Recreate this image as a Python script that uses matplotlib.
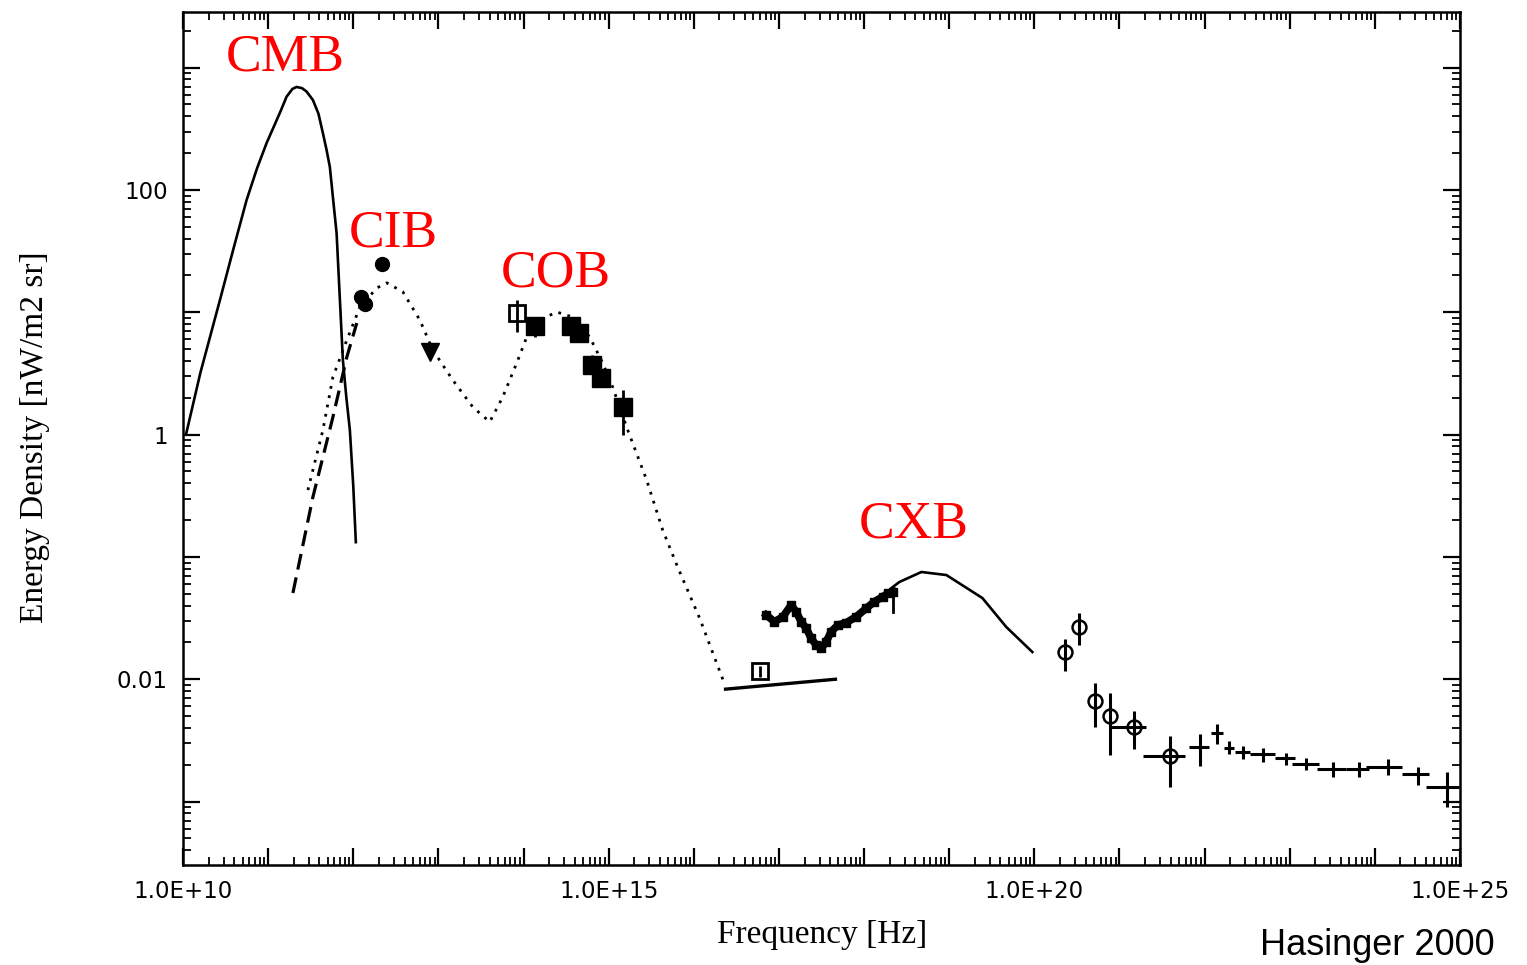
import numpy as np
import matplotlib as mpl
mpl.use('Agg')
import matplotlib.pyplot as plt
from matplotlib.ticker import FixedLocator, LogLocator, NullFormatter, FixedFormatter

# CMB black body (solid)
cmbF = [1.084e10, 1.6e10, 2.716e10, 4.0e10, 5.585e10, 7.4e10, 9.594e10, 1.374e11, 1.648e11,
        1.93e11, 2.158e11, 2.50e11, 2.83e11, 3.357e11, 3.90e11, 4.395e11, 4.86e11, 5.309e11,
        5.81e11, 6.368e11, 6.966e11, 7.551e11, 8.3e11, 9.12e11, 1.0e12, 1.072e12]
cmbE = [1.0, 3.2, 12.6, 35, 82.8, 150, 242, 427, 579, 670, 695, 680, 637, 544, 420, 292,
        212, 154, 82.8, 44.5, 12.6, 4.07, 2.0, 1.09, 0.38, 0.132]

# dashed CIB branch
dashF = [1.954e11, 3.357e11, 5.77e11, 8.41e11, 1.10e12]
dashE = [0.0507, 0.309, 1.393, 4.32, 8.17]

# dotted model CIB + COB
dotF = [2.93e11, 4.40e11, 5.77e11, 8.41e11, 1.194e12, 1.892e12, 2.477e12, 3.82e12,
        6.05e12, 8.59e12, 1.476e13, 2.535e13, 4.01e13, 5.70e13, 8.32e13, 1.091e14,
        1.549e14, 2.455e14, 3.776e14, 5.98e14, 8.51e14, 1.114e15, 1.626e15, 2.79e15,
        4.31e15, 6.46e15, 1.17e16, 2.30e16]
dotE = [0.352, 1.09, 2.96, 5.94, 11.0, 15.8, 17.4, 14.7, 8.65, 4.92, 2.79, 1.68, 1.27,
        2.03, 3.85, 6.28, 8.65, 10.05, 9.15, 6.28, 3.85, 2.45, 1.15, 0.426, 0.166,
        0.0826, 0.0316, 0.00914]

# CIB points
cibF = [2.148e12, 1.227e12, 1.368e12]
cibE = [24.8, 13.4, 11.7]
triF = [8.07e12]
triE = [4.76]

# COB points
cobOpenF = [8.39e13]
cobOpenE = [9.82]
cobOpenLo = [6.93]
cobOpenHi = [12.6]
cobF = [1.352e14, 3.648e14, 4.48e14, 6.44e14, 8.20e14, 1.472e15]
cobE = [7.73, 7.73, 6.73, 3.71, 2.88, 1.67]
cobLo = [6.31, 7.73, 6.73, 3.27, 2.88, 0.993]
cobHi = [9.2, 7.73, 6.73, 4.48, 2.88, 2.32]

# EUV
euvF = [2.36e16, 4.61e17]
euvE = [0.0083, 0.01]
euvPtF = [5.92e16]
euvPtE = [0.01167]
euvPtLo = [0.01047]
euvPtHi = [0.0128]

# CXB data band and model
cxbF = [7.10e16, 8.87e16, 1.112e17, 1.393e17, 1.596e17, 1.828e17, 2.089e17, 2.393e17,
        2.742e17, 3.141e17, 3.589e17, 4.111e17, 4.909e17, 6.166e17, 8.07e17, 1.059e18,
        1.324e18, 1.660e18, 1.901e18, 2.173e18]
cxbE = [0.0335, 0.0295, 0.0324, 0.0404, 0.0356, 0.0295, 0.0261, 0.0216, 0.0190, 0.0179,
        0.0203, 0.0245, 0.0277, 0.0290, 0.0324, 0.0380, 0.0431, 0.0473, 0.0504, 0.0519]
modF = [2.10e18, 2.60e18, 4.72e18, 9.27e18, 2.455e19, 4.69e19, 9.48e19]
modE = [0.0557, 0.0624, 0.0753, 0.0711, 0.0461, 0.0267, 0.0167]

# gamma rays, circles
gcF = [2.29e20, 3.31e20, 5.20e20, 7.80e20, 1.466e21, 3.92e21]
gcE = [0.0166, 0.02655, 0.00667, 0.0050, 0.00409, 0.002366]
gcLo = [0.01167, 0.01905, 0.00409, 0.0024, 0.00267, 0.001306]
gcHi = [0.0212, 0.0346, 0.00925, 0.00767, 0.00552, 0.00345]
gcFlo = [2.29e20, 3.31e20, 5.20e20, 7.80e20, 7.80e20, 1.866e21]
gcFhi = [2.29e20, 3.31e20, 5.20e20, 7.80e20, 2.065e21, 5.92e21]

# gamma rays, crosses
gxF = [8.87e21, 1.393e22, 1.910e22, 2.858e22, 4.91e22, 8.99e22, 1.570e23, 3.228e23,
       6.53e23, 1.439e24, 3.243e24, 7.10e24]
gxE = [0.002805, 0.003612, 0.002754, 0.002523, 0.002432, 0.002254, 0.002027, 0.001845,
       0.001845, 0.001923, 0.001667, 0.001321]
gxLo = [0.00195, 0.00295, 0.002449, 0.002222, 0.002113, 0.001987, 0.001803, 0.001585,
        0.001585, 0.001644, 0.001364, 0.000908]
gxHi = [0.003565, 0.004277, 0.003126, 0.002858, 0.002735, 0.002505, 0.002254, 0.002103,
        0.002103, 0.002222, 0.001923, 0.001754]
gxFlo = [6.59e21, 1.186e22, 1.698e22, 2.265e22, 3.404e22, 6.68e22, 1.067e23, 2.113e23,
         4.59e23, 7.82e23, 2.084e24, 3.95e24]
gxFhi = [1.132e22, 1.652e22, 2.223e22, 3.404e22, 6.68e22, 1.148e23, 2.213e23, 4.59e23,
         8.55e23, 2.104e24, 4.325e24, 9.73e24]

labels = ['CMB', 'CIB', 'COB', 'CXB']
labelF = [1.574e11, 2.917e12, 2.388e14, 3.80e18]
labelE = [940, 34.2, 16.1, 0.1455]


def err(v, lo, hi):
    v = np.array(v)
    return [v - np.array(lo), np.array(hi) - v]


fig = plt.figure(figsize=(15.27, 9.65), dpi=100)
ax = fig.add_axes([183 / 1527, 1 - 865 / 965, (1460 - 183) / 1527, (865 - 12) / 965])
ax.set_xscale('log')
ax.set_yscale('log')

ax.plot(cmbF, cmbE, color='black', lw=1.9)
ax.plot(dashF, dashE, color='black', lw=2.3, ls=(0, (5, 2.5)))
ax.plot(dotF, dotE, color='black', lw=2.0, ls=(0, (1, 2.4)))
ax.plot(cibF, cibE, 'o', color='black', ms=10)
ax.plot(triF, triE, 'v', color='black', ms=13)

ax.errorbar(cobOpenF, cobOpenE, yerr=err(cobOpenE, cobOpenLo, cobOpenHi), fmt='s',
            mfc='none', mec='black', ecolor='black', ms=11.5, mew=2, elinewidth=2, capsize=0)
ax.errorbar(cobF, cobE, yerr=err(cobE, cobLo, cobHi), fmt='s', color='black',
            ms=13, elinewidth=2, capsize=0)

ax.plot(euvF, euvE, color='black', lw=2.4)
ax.errorbar(euvPtF, euvPtE, yerr=err(euvPtE, euvPtLo, euvPtHi), fmt='s', mfc='none',
            mec='black', ecolor='black', ms=11, mew=2, elinewidth=2, capsize=0)

ax.plot(cxbF, cxbE, color='black', lw=5.5, marker='s', ms=6)
ax.plot([cxbF[-1], cxbF[-1]], [0.0536, 0.0356], color='black', lw=2)
ax.plot(modF, modE, color='black', lw=1.9)

ax.errorbar(gcF, gcE, yerr=err(gcE, gcLo, gcHi), xerr=err(gcF, gcFlo, gcFhi), fmt='o',
            mfc='none', mec='black', ecolor='black', ms=10, mew=1.8, elinewidth=2.2, capsize=0)
ax.errorbar(gxF, gxE, yerr=err(gxE, gxLo, gxHi), xerr=err(gxF, gxFlo, gxFhi), fmt='none',
            ecolor='black', elinewidth=2.2, capsize=0)

for t, f, e in zip(labels, labelF, labelE):
    ax.text(f, e, t, color='#ff0000', fontsize=38.5, family='Liberation Serif',
            ha='center', va='baseline')

ax.set_xlim(1e10, 1e25)
ax.set_ylim(3.03e-4, 2850)

xt = [10.0 ** k for k in range(10, 26)]
ax.xaxis.set_major_locator(FixedLocator(xt))
ax.xaxis.set_major_formatter(FixedFormatter(['1.0E+%d' % k if k % 5 == 0 else '' for k in range(10, 26)]))
ax.xaxis.set_minor_locator(LogLocator(base=10, subs=np.arange(2, 10), numticks=100))
ax.xaxis.set_minor_formatter(NullFormatter())

yt = [10.0 ** k for k in range(-3, 4)]
ax.yaxis.set_major_locator(FixedLocator(yt))
ax.yaxis.set_major_formatter(FixedFormatter(['', '0.01', '', '1', '', '100', '']))
ax.yaxis.set_minor_locator(LogLocator(base=10, subs=np.arange(2, 10), numticks=100))
ax.yaxis.set_minor_formatter(NullFormatter())

ax.tick_params(which='both', direction='in', top=True, right=True, color='black')
ax.tick_params(which='major', length=12, width=1.6, labelsize=16.5, pad=11)
ax.tick_params(which='minor', length=5.5, width=1.3)
for lab in ax.get_xticklabels() + ax.get_yticklabels():
    lab.set_family('DejaVu Sans')
for s in ax.spines.values():
    s.set_linewidth(1.8)

fig.text(35 / 1527, 1 - 437 / 965, 'Energy Density [nW/m2 sr]', rotation=90,
         ha='center', va='center', fontsize=24, family='Liberation Serif')
fig.text(822 / 1527, 1 - 943 / 965, 'Frequency [Hz]', ha='center', va='baseline',
         fontsize=24, family='Liberation Serif')
fig.text(1377 / 1527, 1 - 955 / 965, 'Hasinger 2000', ha='center', va='baseline',
         fontsize=26, family='Liberation Sans')

fig.savefig('out.png', dpi=100)
